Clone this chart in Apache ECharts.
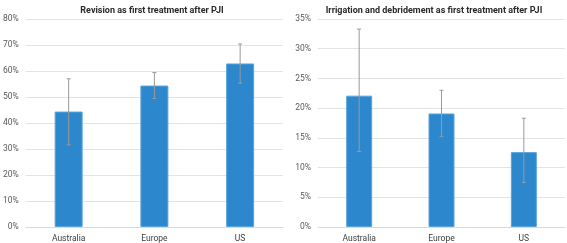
<!DOCTYPE html>
<html>
<head>
<meta charset="utf-8">
<script src="https://cdn.jsdelivr.net/npm/echarts@6/dist/echarts.min.js"></script>
<style>
  html, body { margin: 0; padding: 0; background: #fff; }
  #chart { width: 567px; height: 243px; }
</style>
</head>
<body>
<div id="chart"></div>
<script>
const categories = ['Australia', 'Europe', 'US']

// Revision as first treatment (%)
const revisionValues = [44.4, 54.4, 62.9]
const revisionLow = [31.6, 49.4, 55.3]
const revisionHigh = [57.0, 59.4, 70.4]

// Irrigation and debridement as first treatment (%)
const idValues = [22.1, 19.1, 12.6]
const idLow = [12.7, 15.2, 7.5]
const idHigh = [33.3, 23.0, 18.3]

const titles = [
  'Revision as first treatment after PJI',
  'Irrigation and debridement as first treatment after PJI'
]

const barColor = '#2C87CD'
const font = 'Roboto'

function errorSeries(idx, low, high) {
  return {
    type: 'custom',
    xAxisIndex: idx,
    yAxisIndex: idx,
    z: 5,
    data: categories.map((c, i) => [i, low[i], high[i]]),
    renderItem: function(params, api) {
      const x = api.value(0)
      const lo = api.coord([x, api.value(1)])
      const hi = api.coord([x, api.value(2)])
      const cap = 2
      const style = { stroke: '#9a9a9a', lineWidth: 1 }
      return {
        type: 'group',
        children: [
          { type: 'line', shape: { x1: lo[0], y1: lo[1], x2: hi[0], y2: hi[1] }, style: style },
          { type: 'line', shape: { x1: hi[0] - cap, y1: hi[1], x2: hi[0] + cap, y2: hi[1] }, style: style },
          { type: 'line', shape: { x1: lo[0] - cap, y1: lo[1], x2: lo[0] + cap, y2: lo[1] }, style: style }
        ]
      }
    }
  }
}

function xAxis(idx) {
  return {
    type: 'category',
    gridIndex: idx,
    data: categories,
    axisTick: { show: false },
    axisLine: { lineStyle: { color: '#d9d9d9' } },
    axisLabel: { color: '#404040', fontSize: 8.5, fontFamily: font, margin: 7 }
  }
}

function yAxis(idx, max, interval) {
  return {
    type: 'value',
    gridIndex: idx,
    min: 0,
    max: max,
    interval: interval,
    axisLine: { show: false },
    axisTick: { show: false },
    splitLine: { lineStyle: { color: '#e3e3e3' } },
    axisLabel: { color: '#595959', fontSize: 8.5, fontFamily: font, margin: 7, formatter: '{value}%' }
  }
}

const chart = echarts.init(document.getElementById('chart'))
chart.setOption({
  animation: false,
  title: [
    {
      text: titles[0], left: 147, top: 1, textAlign: 'center',
      textStyle: { fontSize: 9, fontWeight: 'bold', color: '#2a2a2a', fontFamily: font }
    },
    {
      text: titles[1], left: 429, top: 1, textAlign: 'center',
      textStyle: { fontSize: 9, fontWeight: 'bold', color: '#2a2a2a', fontFamily: font }
    }
  ],
  grid: [
    { left: 22, top: 19, width: 261, height: 208 },
    { left: 318, top: 19, width: 247, height: 208 }
  ],
  xAxis: [xAxis(0), xAxis(1)],
  yAxis: [yAxis(0, 80, 10), yAxis(1, 35, 5)],
  series: [
    {
      type: 'bar', xAxisIndex: 0, yAxisIndex: 0, data: revisionValues, barWidth: 28,
      itemStyle: { color: barColor, borderColor: '#5aa5dc', borderWidth: 1 }
    },
    {
      type: 'bar', xAxisIndex: 1, yAxisIndex: 1, data: idValues, barWidth: 26,
      itemStyle: { color: barColor, borderColor: '#5aa5dc', borderWidth: 1 }
    },
    errorSeries(0, revisionLow, revisionHigh),
    errorSeries(1, idLow, idHigh)
  ]
})
</script>
</body>
</html>
